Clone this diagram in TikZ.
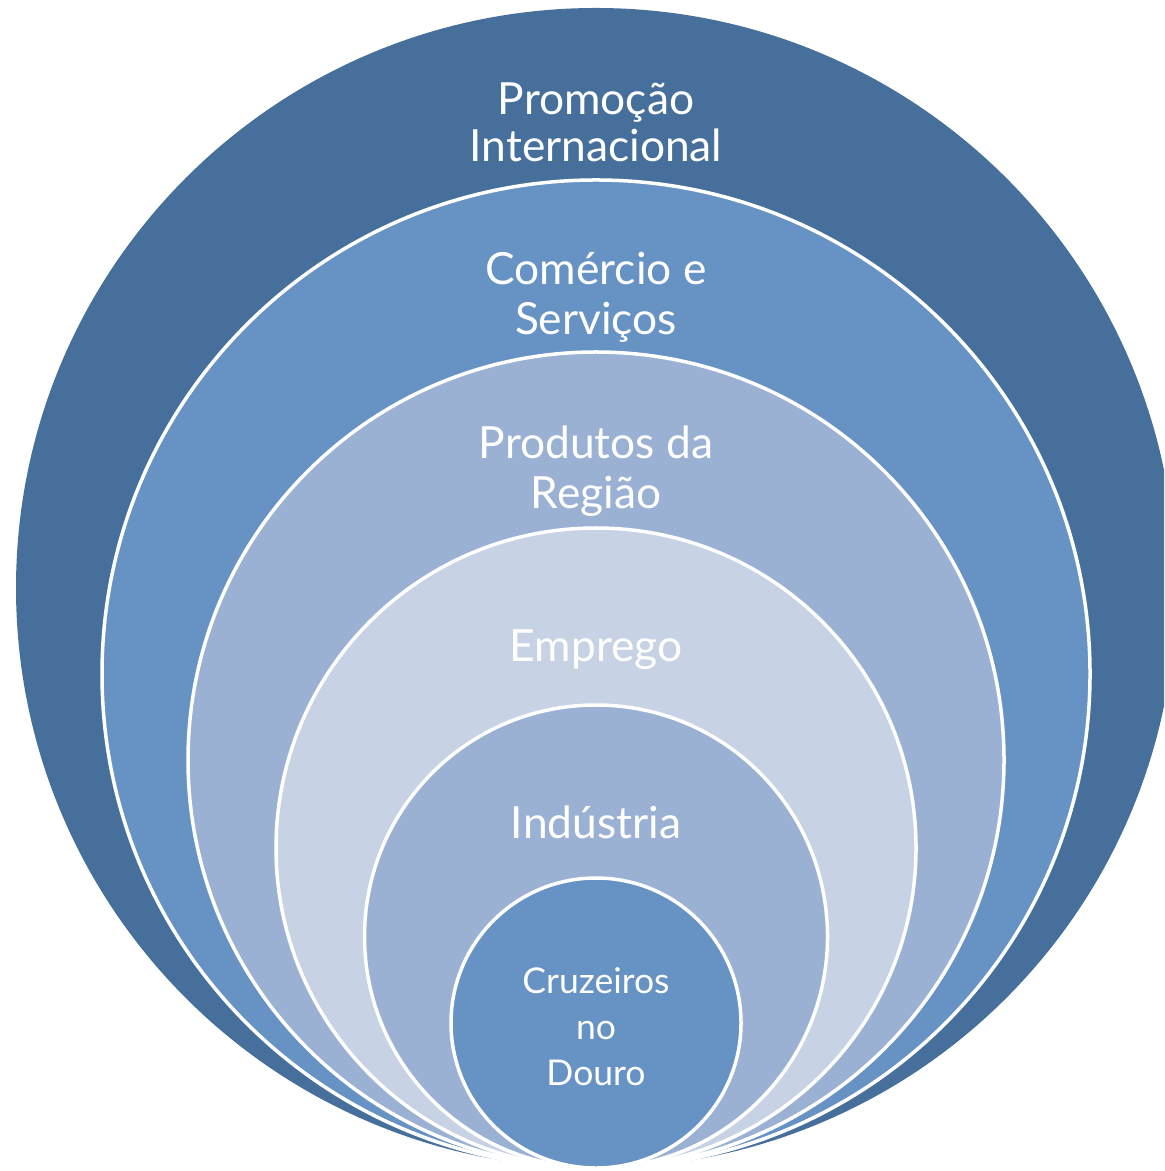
\documentclass[tikz,border=0pt]{standalone}
\usepackage{fontspec}
\setmainfont{Lato}
\definecolor{cA}{HTML}{46709B}
\definecolor{cB}{HTML}{6792C4}
\definecolor{cC}{HTML}{9AB1D4}
\definecolor{cD}{HTML}{C7D2E4}
\tikzset{
  ring/.style={draw=white, line width=0.035cm},
  lbl/.style={text=white, anchor=base, inner sep=0pt, font=\fontsize{12.6pt}{14pt}\selectfont},
  slbl/.style={text=white, anchor=base, inner sep=0pt, font=\fontsize{10.1pt}{12pt}\selectfont}
}
\begin{document}
\begin{tikzpicture}[x=0.01cm,y=-0.01cm]
\useasboundingbox (0,0) rectangle (1164,1171);
\begin{scope}
\clip (0,0) rectangle (1164,1171);
\fill[cA] (596,588) circle[radius=580];
\filldraw[ring, fill=cB] (596,674) circle[radius=494];
\filldraw[ring, fill=cC] (596,760) circle[radius=408];
\filldraw[ring, fill=cD] (596,848) circle[radius=320];
\filldraw[ring, fill=cC] (596,936.5) circle[radius=231.5];
\filldraw[ring, fill=cB] (596,1023) circle[radius=145];
\end{scope}
\node[lbl] (p1) at (596,115) {Promoção};
\node[lbl] (p2) at (596,162) {Internacional};
\node[lbl] (c1) at (596,285) {Comércio e};
\node[lbl] (c2) at (596,335) {Serviços};
\node[lbl] (r1) at (596,459) {Produtos da};
\node[lbl] (r2) at (596,509) {Região};
\node[lbl] (e1) at (596,662) {Emprego};
\node[lbl] (i1) at (596,838) {Indústria};
\node[slbl] (d1) at (596,993) {Cruzeiros};
\node[slbl] (d2) at (596,1039) {no};
\node[slbl] (d3) at (596,1085) {Douro};
\end{tikzpicture}
\end{document}
